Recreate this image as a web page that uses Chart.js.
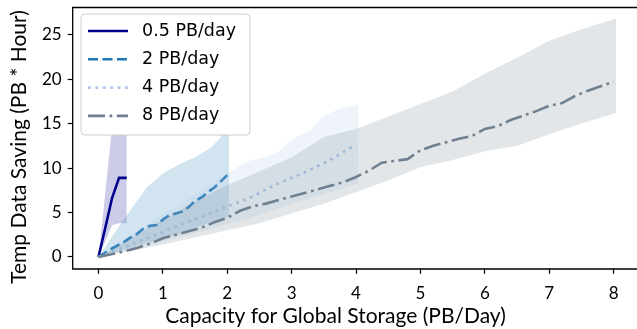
<!DOCTYPE html>
<html>
<head>
<meta charset="utf-8">
<script src="https://cdn.jsdelivr.net/npm/chart.js@4.4.1/dist/chart.umd.min.js"></script>
<style>
  html, body { margin: 0; padding: 0; background: #fff; overflow: hidden; }
</style>
</head>
<body>
<canvas id="chart" width="637" height="329"></canvas>
<script>
// tick values and labels
const xTicks = [0, 1, 2, 3, 4, 5, 6, 7, 8];
const yTicks = [0, 5, 10, 15, 20, 25];
const xTitle = "Capacity for Global Storage (PB/Day)";
const yTitle = "Temp Data Saving (PB * Hour)";
const names = ["0.5 PB/day", "2 PB/day", "4 PB/day", "8 PB/day"];

// 0.5 PB/day
const halfX = [0, 0.11, 0.21, 0.32, 0.44];
const halfMean = [0, 3.4, 6.6, 8.9, 8.9];
const halfLow = [0, 1.8, 3.6, 3.8, 3.8];
const halfHigh = [0, 7.5, 14.5, 20.0, 20.0];

// 2 PB/day
const twoX = [0, 0.1, 0.2, 0.3, 0.4, 0.5, 0.6, 0.7, 0.8, 0.9, 1.0, 1.1, 1.2, 1.3, 1.4, 1.5, 1.6, 1.7, 1.8, 1.9, 2.0];
const twoMean = [0, 0.45, 0.9, 1.3, 1.7, 2.2, 2.6, 3.2, 3.5, 3.6, 4.2, 4.7, 4.9, 5.1, 5.6, 6.3, 6.7, 7.3, 7.8, 8.5, 9.2];
const twoBandX = [0, 0.25, 0.5, 0.75, 1.0, 1.25, 1.5, 1.75, 1.9, 2.03];
const twoLow = [0, 0.5, 1.0, 1.6, 2.0, 2.6, 3.3, 3.9, 4.3, 4.6];
const twoHigh = [0, 2.7, 5.3, 7.8, 9.4, 10.4, 11.2, 12.3, 13.5, 16.5];

// 4 PB/day
const fourX = [0, 0.2, 0.4, 0.6, 0.8, 1.0, 1.2, 1.4, 1.6, 1.8, 2.0, 2.2, 2.4, 2.6, 2.8, 3.0, 3.2, 3.4, 3.6, 3.8, 4.0];
const fourMean = [0, 0.55, 1.1, 1.7, 2.2, 2.8, 3.4, 4.0, 4.5, 5.1, 5.7, 6.2, 6.8, 7.6, 8.3, 8.9, 9.5, 10.2, 10.9, 11.8, 12.6];
const fourBandX = [0, 0.5, 1.0, 1.5, 2.0, 2.3, 2.6, 2.8, 3.0, 3.3, 3.5, 3.8, 4.04];
const fourLow = [0, 0.9, 1.8, 2.7, 3.7, 4.3, 5.0, 5.5, 6.0, 6.6, 7.1, 7.7, 8.3];
const fourHigh = [0, 2.4, 4.8, 7.0, 9.4, 10.7, 11.3, 11.9, 13.2, 14.3, 15.9, 16.8, 17.2];

// 8 PB/day
const eightX = [0, 0.2, 0.4, 0.6, 0.8, 1.0, 1.2, 1.4, 1.6, 1.8, 2.0, 2.2, 2.4, 2.6, 2.8, 3.0, 3.2, 3.4, 3.6, 3.8, 4.0,
  4.2, 4.4, 4.6, 4.8, 5.0, 5.2, 5.4, 5.6, 5.8, 6.0, 6.2, 6.4, 6.6, 6.8, 7.0, 7.2, 7.4, 7.6, 7.8, 8.0];
const eightMean = [0, 0.3, 0.65, 1.0, 1.5, 2.1, 2.5, 2.9, 3.3, 3.9, 4.4, 5.2, 5.7, 6.0, 6.4, 6.8, 7.2, 7.6, 8.0, 8.4, 9.0,
  9.7, 10.6, 10.8, 11.0, 12.0, 12.5, 12.9, 13.3, 13.6, 14.4, 14.7, 15.4, 15.9, 16.4, 17.0, 17.3, 18.1, 18.7, 19.2, 19.7];
const eightBandX = [0, 0.5, 1, 1.5, 2, 2.5, 3, 3.5, 4, 4.5, 5, 5.5, 6, 6.5, 7, 7.5, 8.04];
const eightLow = [0, 0.7, 1.4, 2.2, 3.0, 3.8, 4.9, 6.0, 7.3, 8.6, 10.1, 10.9, 11.9, 12.5, 13.8, 15.0, 16.2];
const eightHigh = [0, 2.1, 4.2, 6.2, 8.1, 9.6, 11.2, 13.5, 14.4, 15.8, 17.2, 18.6, 20.6, 22.4, 24.3, 25.6, 26.8];

const colors = ["#00008b", "#1f77b4", "#aec7e8", "#708090"];
const bands = ["rgba(0,0,139,0.2)", "rgba(31,119,180,0.2)", "rgba(174,199,232,0.2)", "rgba(112,128,144,0.2)"];
const dashes = [[], [10, 4.5], [2.8, 4.6], [17, 4.5, 2.8, 4.5]];

function pts(xs, ys) {
  return xs.map((x, i) => ({ x: x, y: ys[i] }));
}

const groups = [
  [halfX, halfMean, halfX, halfLow, halfHigh],
  [twoX, twoMean, twoBandX, twoLow, twoHigh],
  [fourX, fourMean, fourBandX, fourLow, fourHigh],
  [eightX, eightMean, eightBandX, eightLow, eightHigh]
];

let datasets = [];
groups.forEach((g, k) => {
  const base = 4 - k;   // later series drawn on top
  datasets.push({
    label: names[k], legend: true,
    data: pts(g[0], g[1]),
    borderColor: colors[k], borderWidth: 2.6, borderDash: dashes[k],
    pointRadius: 0, fill: false, tension: 0, order: base + 0.5
  });
  const lowIdx = datasets.length;
  datasets.push({
    label: names[k] + " low",
    data: pts(g[2], g[3]),
    borderColor: "transparent", borderWidth: 0,
    pointRadius: 0, fill: false, tension: 0, order: base + 0.3
  });
  datasets.push({
    label: names[k] + " high",
    data: pts(g[2], g[4]),
    borderColor: "transparent", borderWidth: 0, backgroundColor: bands[k],
    pointRadius: 0, fill: { target: lowIdx }, tension: 0, order: base + 0.2
  });
});

function drawDecor(chart) {
  const ctx = chart.ctx;
  const a = chart.chartArea;
  ctx.save();
  ctx.globalAlpha = 1;
  ctx.globalCompositeOperation = "source-over";
  // frame (right spine falls outside the picture)
  ctx.strokeStyle = "#000";
  ctx.lineWidth = 1.3;
  ctx.beginPath();
  ctx.moveTo(chart.width, a.top);
  ctx.lineTo(a.left, a.top);
  ctx.lineTo(a.left, a.bottom);
  ctx.lineTo(chart.width, a.bottom);
  ctx.stroke();

  // axis titles
  ctx.fillStyle = "#000";
  ctx.font = "21px Lato";
  ctx.textAlign = "center";
  ctx.textBaseline = "middle";
  ctx.fillText(xTitle, 335.5, 316);
  ctx.save();
  ctx.translate(19, 147);
  ctx.rotate(-Math.PI / 2);
  ctx.fillText(yTitle, 0, 0);
  ctx.restore();

  // legend box
  const lx = a.left + 8.3, ly = a.top + 6.5, lw = 169, lh = 121;
  ctx.beginPath();
  ctx.roundRect(lx, ly, lw, lh, 4);
  ctx.fillStyle = "#ffffff";
  ctx.fill();
  ctx.strokeStyle = "#cccccc";
  ctx.lineWidth = 1;
  ctx.stroke();
  ctx.font = '17.5px "DejaVu Sans"';
  ctx.textAlign = "left";
  chart.data.datasets.filter(d => d.legend).forEach((d, i) => {
    const y = ly + 17 + i * 28.3;
    ctx.beginPath();
    ctx.setLineDash(d.borderDash);
    ctx.strokeStyle = d.borderColor;
    ctx.lineWidth = d.borderWidth;
    ctx.moveTo(lx + 7, y);
    ctx.lineTo(lx + 47, y);
    ctx.stroke();
    ctx.setLineDash([]);
    ctx.fillStyle = "#000";
    ctx.fillText(d.label, lx + 61, y);
  });
  ctx.restore();
}

const decor = {
  id: "decor",
  afterDraw(chart) { drawDecor(chart); }
};

const tickFont = { family: "Lato", size: 17 };

new Chart(document.getElementById("chart"), {
  type: "line",
  data: { datasets: datasets },
  options: {
    responsive: false,
    animation: false,
    devicePixelRatio: 1,
    layout: { padding: { top: 7.5, right: 0, left: 0, bottom: 0 } },
    plugins: { legend: { display: false }, tooltip: { enabled: false } },
    scales: {
      x: {
        type: "linear", min: -0.4, max: 8.363,
        afterBuildTicks: s => { s.ticks = xTicks.map(v => ({ value: v })); },
        afterFit: s => { s.height = 60; s.paddingLeft = 0; s.paddingRight = 0; },
        grid: { drawOnChartArea: false, tickLength: 4.8, tickColor: "#000", tickWidth: 1.2 },
        border: { display: false },
        ticks: { autoSkip: false, maxRotation: 0, color: "#000", font: tickFont, padding: 10 }
      },
      y: {
        type: "linear", min: -1.35, max: 28.05,
        afterBuildTicks: s => { s.ticks = yTicks.map(v => ({ value: v })); },
        afterFit: s => { s.width = 72.7; s.paddingTop = 0; s.paddingBottom = 0; },
        grid: { drawOnChartArea: false, tickLength: 5, tickColor: "#000", tickWidth: 1.2 },
        border: { display: false },
        ticks: { autoSkip: false, color: "#000", font: tickFont, padding: 6 }
      }
    }
  },
  plugins: [decor]
});
</script>
</body>
</html>
